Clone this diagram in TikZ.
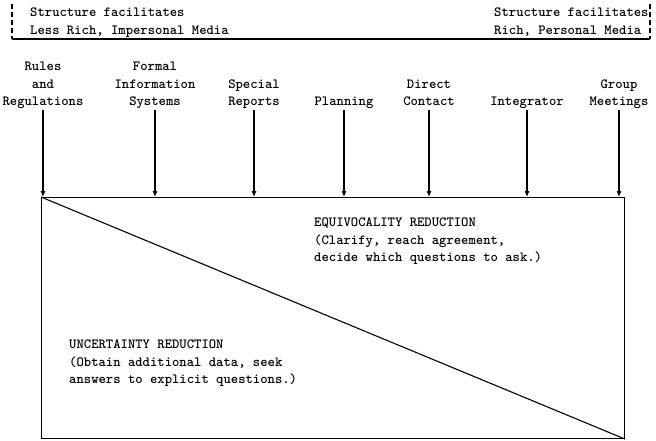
\documentclass[tikz,border=0pt]{standalone}
\usetikzlibrary{arrows.meta}
\tikzset{
  typed/.style={font=\ttfamily\bfseries\fontsize{14}{17.5}\selectfont},
  mech/.style={typed, align=center, anchor=south, inner sep=1pt, text depth=3pt},
  note/.style={typed, align=left, anchor=north west, inner sep=0pt},
  feed/.style={line width=1.1pt, -{Latex[length=6pt,width=5pt]}},
}
\begin{document}
\begin{tikzpicture}[x=1pt,y=-1pt]
  \useasboundingbox (0,0) rectangle (656,440);
  % Media richness bracket
  \coordinate (lt) at (12,4);
  \coordinate (lb) at (12,39);
  \coordinate (rt) at (650,4);
  \coordinate (rb) at (650,39);
  \draw[line width=1.1pt, dash pattern=on 5pt off 3pt] (lt) -- (lb);
  \draw[line width=1.1pt, dash pattern=on 5pt off 3pt] (rt) -- (rb);
  \draw[line width=1.1pt] (lb) -- (rb);
  \node[note] (lean) at (30,8) {Structure facilitates\\Less Rich, Impersonal Media};
  \node[note] (rich) at (494,8) {Structure facilitates\\Rich, Personal Media};

  % Reduction box
  \node[draw, line width=1.1pt, minimum width=583pt, minimum height=241pt,
        anchor=north west, inner sep=0pt] (box) at (41,197) {};
  \draw[line width=1.1pt] (box.north west) -- (box.south east);
  \node[note] (equi) at (314,218) {EQUIVOCALITY REDUCTION\\(Clarify, reach agreement,\\decide which questions to ask.)};
  \node[note] (uncert) at (69,340) {UNCERTAINTY REDUCTION\\(Obtain additional data, seek\\answers to explicit questions.)};

  % Structural mechanisms
  \foreach \x/\id/\txt in {43/rules/{Rules\\and\\Regulations},
                           155/formal/{Formal\\Information\\Systems},
                           254/special/{Special\\Reports},
                           344/planning/{Planning},
                           429/direct/{Direct\\Contact},
                           527/integ/{Integrator},
                           619/group/{Group\\Meetings}} {
    \node[mech] (\id) at (\x,110) {\txt};
    \draw[feed] (\id.south) -- (\id.south |- box.north);
  }
\end{tikzpicture}
\end{document}
